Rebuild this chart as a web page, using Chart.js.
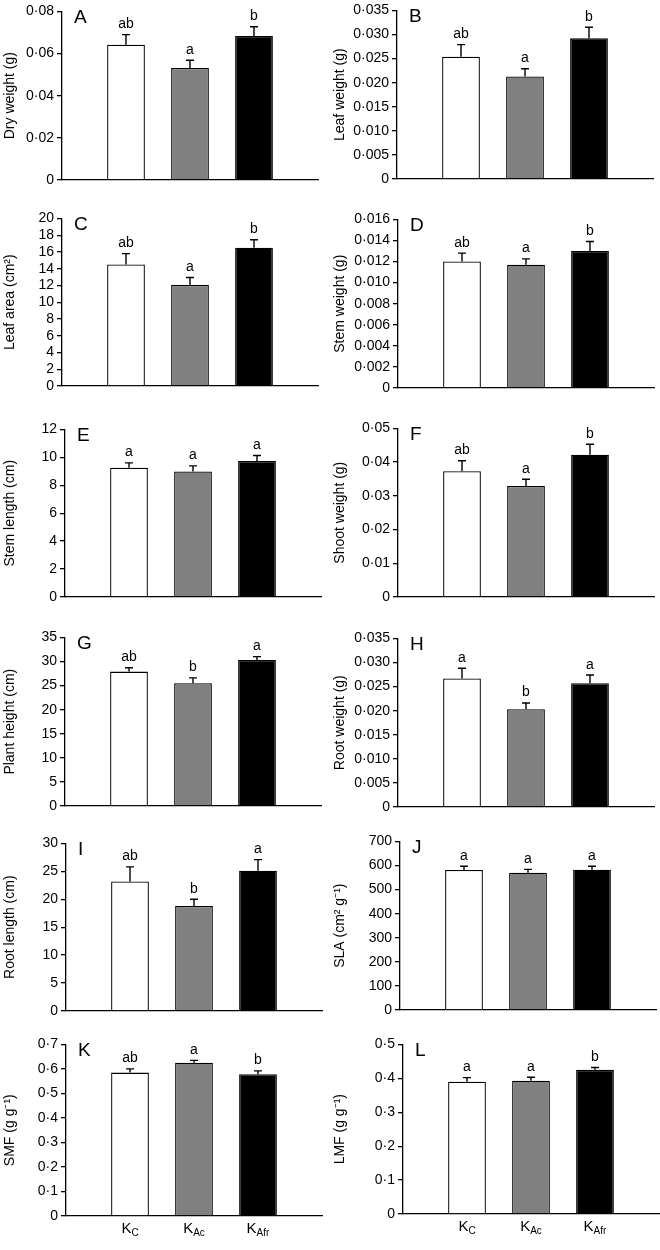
<!DOCTYPE html>
<html>
<head>
<meta charset="utf-8">
<script src="https://cdn.jsdelivr.net/npm/chart.js@4/dist/chart.umd.min.js"></script>
<style>
  html, body { margin: 0; padding: 0; background: #fff; }
  #fig { position: relative; width: 660px; height: 1250px; overflow: hidden; }
  #fig canvas { position: absolute; }
</style>
</head>
<body>
<div id="fig"></div>
<script>
// treatments (K + subscript)
const groupMain = ['K', 'K', 'K'];
const groupSub = ['C', 'Ac', 'Afr'];
const barColors = ['#ffffff', '#808080', '#000000'];

// means, standard errors and significance letters per panel
const dryWeight = [0.0642, 0.0532, 0.0683];
const dryWeightErr = [0.0048, 0.0036, 0.0044];
const dryWeightSig = ['ab', 'a', 'b'];

const leafWeight = [0.0254, 0.0213, 0.0292];
const leafWeightErr = [0.0025, 0.0016, 0.0023];
const leafWeightSig = ['ab', 'a', 'b'];

const leafArea = [14.5, 12.05, 16.5];
const leafAreaErr = [1.3, 0.9, 0.95];
const leafAreaSig = ['ab', 'a', 'b'];

const stemWeight = [0.0120, 0.0117, 0.0130];
const stemWeightErr = [0.0008, 0.00055, 0.0009];
const stemWeightSig = ['ab', 'a', 'b'];

const stemLength = [9.26, 8.99, 9.73];
const stemLengthErr = [0.34, 0.40, 0.40];
const stemLengthSig = ['a', 'a', 'a'];

const shootWeight = [0.0373, 0.0329, 0.0422];
const shootWeightErr = [0.0031, 0.0020, 0.0031];
const shootWeightSig = ['ab', 'a', 'b'];

const plantHeight = [27.9, 25.5, 30.3];
const plantHeightErr = [0.8, 1.1, 0.7];
const plantHeightSig = ['ab', 'b', 'a'];

const rootWeight = [0.0267, 0.0203, 0.0257];
const rootWeightErr = [0.0021, 0.0013, 0.0017];
const rootWeightSig = ['a', 'b', 'a'];

const rootLength = [23.2, 18.8, 25.1];
const rootLengthErr = [2.6, 1.2, 2.0];
const rootLengthSig = ['ab', 'b', 'a'];

const sla = [581, 570, 582];
const slaErr = [16, 14, 15];
const slaSig = ['a', 'a', 'a'];

const smf = [0.585, 0.625, 0.578];
const smfErr = [0.015, 0.010, 0.014];
const smfSig = ['ab', 'a', 'b'];

const lmf = [0.390, 0.393, 0.425];
const lmfErr = [0.012, 0.010, 0.007];
const lmfSig = ['a', 'a', 'b'];

// y axis: max, step, decimals of tick labels
const yMax = [0.08, 0.035, 20, 0.016, 12, 0.05, 35, 0.035, 30, 700, 0.7, 0.5];
const yStep = [0.02, 0.005, 2, 0.002, 2, 0.01, 5, 0.005, 5, 100, 0.1, 0.1];
const yDecimals = [2, 3, 0, 3, 0, 2, 0, 3, 0, 0, 1, 1];

const panelLetters = ['A', 'B', 'C', 'D', 'E', 'F', 'G', 'H', 'I', 'J', 'K', 'L'];
const yTitles = [
  'Dry weight (g)', 'Leaf weight (g)',
  'Leaf area (cm\u00B2)', 'Stem weight (g)',
  'Stem length (cm)', 'Shoot weight (g)',
  'Plant height (cm)', 'Root weight (g)',
  'Root length (cm)', 'SLA (cm\u00B2 g\u207B\u00B9)',
  'SMF (g g\u207B\u00B9)', 'LMF (g g\u207B\u00B9)'
];

const series = [dryWeight, leafWeight, leafArea, stemWeight, stemLength, shootWeight,
  plantHeight, rootWeight, rootLength, sla, smf, lmf];
const errors = [dryWeightErr, leafWeightErr, leafAreaErr, stemWeightErr, stemLengthErr, shootWeightErr,
  plantHeightErr, rootWeightErr, rootLengthErr, slaErr, smfErr, lmfErr];
const letters = [dryWeightSig, leafWeightSig, leafAreaSig, stemWeightSig, stemLengthSig, shootWeightSig,
  plantHeightSig, rootWeightSig, rootLengthSig, slaSig, smfSig, lmfSig];

// layout of each panel in page pixels: y-axis x, plot top, plot baseline
const axisX = [62, 397, 62, 398, 65, 398, 65, 398, 66, 400, 66, 403];
const plotTop = [9, 8, 216, 217, 427, 426, 635, 636, 841, 839, 1042, 1042];
const plotBottom = [188, 187, 394, 396, 605, 605, 814, 815, 1019, 1018, 1224, 1222];
const plotWidth = 256;

const FONT = "'Liberation Sans', Arial, Helvetica, sans-serif";
Chart.defaults.font.family = FONT;
Chart.defaults.color = '#000';

const fmt = (v, dec) => (v === 0 ? '0' : v.toFixed(dec).replace('.', '\u00B7'));

function makeDecor(idx, showX) {
  return {
    id: 'decor' + idx,
    afterDatasetsDraw(chart) {
      const ctx = chart.ctx;
      const y = chart.scales.y;
      const area = chart.chartArea;
      const bars = chart.getDatasetMeta(0).data;
      ctx.save();
      ctx.strokeStyle = '#000';
      ctx.fillStyle = '#000';
      ctx.lineWidth = 1.4;
      bars.forEach((bar, i) => {
        const top = y.getPixelForValue(series[idx][i] + errors[idx][i]);
        ctx.beginPath();
        ctx.moveTo(bar.x, bar.y);
        ctx.lineTo(bar.x, top);
        ctx.moveTo(bar.x - 4, top);
        ctx.lineTo(bar.x + 4, top);
        ctx.stroke();
        ctx.font = '14px ' + FONT;
        ctx.textAlign = 'center';
        ctx.textBaseline = 'alphabetic';
        ctx.fillText(letters[idx][i], bar.x, top - 6.5);
      });
      // panel letter
      ctx.font = '19px ' + FONT;
      ctx.textAlign = 'left';
      ctx.fillText(panelLetters[idx], area.left + 12, area.top + 12);
      // treatment labels under the last row
      if (showX) {
        bars.forEach((bar, i) => {
          ctx.font = '15px ' + FONT;
          const wMain = ctx.measureText(groupMain[i]).width;
          ctx.font = '10px ' + FONT;
          const wSub = ctx.measureText(groupSub[i]).width;
          const x0 = bar.x - (wMain + wSub) / 2;
          const base = area.bottom + 17;
          ctx.textAlign = 'left';
          ctx.font = '15px ' + FONT;
          ctx.fillText(groupMain[i], x0, base);
          ctx.font = '10px ' + FONT;
          ctx.fillText(groupSub[i], x0 + wMain, base + 3);
        });
      }
      ctx.restore();
    }
  };
}

const fig = document.getElementById('fig');

series.forEach((values, idx) => {
  const col = idx % 2;
  const row = Math.floor(idx / 2);
  const padTop = 9;
  const padBottom = row === 5 ? 26 : 10;
  const width = 330;
  const height = plotBottom[idx] - plotTop[idx] + padTop + padBottom;
  const axisW = axisX[idx] - col * 330;

  const canvas = document.createElement('canvas');
  canvas.width = width;
  canvas.height = height;
  canvas.style.left = (col * 330) + 'px';
  canvas.style.top = (plotTop[idx] - padTop) + 'px';
  canvas.style.width = width + 'px';
  canvas.style.height = height + 'px';
  fig.appendChild(canvas);

  new Chart(canvas, {
    type: 'bar',
    data: {
      datasets: [{
        data: values.map((v, i) => ({ x: i + 1, y: v })),
        backgroundColor: barColors,
        borderColor: '#000',
        borderWidth: 1.3,
        borderSkipped: 'start',
        barPercentage: 0.59,
        categoryPercentage: 1,
      }],
    },
    options: {
      responsive: false,
      animation: false,
      devicePixelRatio: 1,
      layout: {
        padding: { top: padTop, bottom: padBottom, left: 0, right: width - axisW - plotWidth },
      },
      scales: {
        x: {
          type: 'linear',
          offset: false,
          min: 0,
          max: 4,
          ticks: { display: false, stepSize: 1 },
          grid: { display: false, offset: false },
          border: { display: true, color: '#000', width: 1.3 },
        },
        y: {
          min: 0,
          max: yMax[idx],
          afterFit: (scale) => { scale.width = axisW; },
          ticks: {
            stepSize: yStep[idx],
            autoSkip: false,
            padding: 3,
            color: '#000',
            font: { size: 14 },
            callback: (v) => fmt(v, yDecimals[idx]),
          },
          grid: {
            display: true,
            drawOnChartArea: false,
            drawTicks: true,
            tickLength: 5,
            color: '#000',
            lineWidth: 1.3,
          },
          border: { display: true, color: '#000', width: 1.3 },
          title: {
            display: true,
            text: yTitles[idx],
            color: '#000',
            font: { size: 14 },
            padding: { top: 2, bottom: 4 },
          },
        },
      },
      plugins: {
        legend: { display: false },
        tooltip: { enabled: false },
      },
    },
    plugins: [makeDecor(idx, row === 5)],
  });
});
</script>
</body>
</html>
